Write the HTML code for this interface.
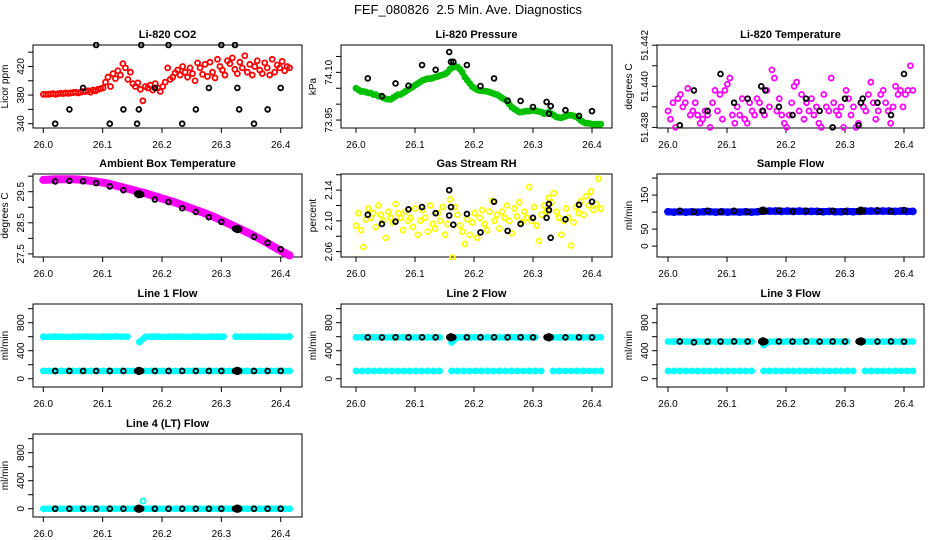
<!DOCTYPE html>
<html><head><meta charset="utf-8"><style>
html,body{margin:0;padding:0;background:#fff;}
svg{display:block;font-family:"Liberation Sans",sans-serif;}
</style></head><body>
<svg id="fig" width="936" height="540" viewBox="0 0 936 540">
<text x="468" y="14" text-anchor="middle" font-size="13" xml:space="preserve">FEF_080826  2.5 Min. Ave. Diagnostics</text>
</svg>
<script>
// shared black (reference) sample times
const blackTimes=[26.02,26.044,26.067,26.089,26.112,26.135,26.158,26.161,26.165,26.188,26.211,26.234,26.257,26.279,26.3,26.323,26.327,26.33,26.355,26.378,26.4];
const xTicks=[26.0,26.1,26.2,26.3,26.4];
const xTickLabels=["26.0","26.1","26.2","26.3","26.4"];

const co2Vals=[381,381,381,381.5,382,381,382,382.5,382,383,382.5,383,383.5,384,383,384,385,
385,386,384,387,386,388,389,390,
398,405,392,410,403,414,408,424,418,402,412,396,
392,397,388,372,392,390,394,387,396,390,385,392,
398,418,402,405,411,415,408,420,412,405,418,410,
400,425,418,409,423,406,426,412,404,430,420,415,
408,428,424,432,416,410,426,418,435,412,423,408,
420,428,415,410,425,418,408,430,412,422,418,427,414,420,418];
const co2Black=[340,360,390,450,340,360,340,360,450,390,450,340,360,390,450,450,390,360,340,360,390];

const presVals=[74.05,74.045,74.04,74.04,74.038,74.035,74.035,74.03,74.03,74.025,74.025,74.02,74.017,74.015,74.015,
74.02,74.025,74.03,74.03,74.035,74.04,74.045,74.05,74.055,74.06,74.065,74.07,74.075,74.078,74.08,74.08,74.082,74.085,74.087,74.09,74.092,
74.095,74.10,74.11,74.115,74.12,74.117,74.11,74.10,74.085,
74.075,74.065,74.055,74.05,74.045,74.043,74.042,74.041,74.04,74.038,74.035,
74.032,74.03,74.025,74.02,74.015,74.01,74.0,73.99,73.985,73.98,73.975,
73.975,73.977,73.978,73.978,73.98,73.98,73.978,73.977,73.975,73.97,73.972,73.975,73.97,73.965,
73.96,73.958,73.957,73.96,73.963,73.965,73.965,73.963,73.96,73.955,73.948,73.943,73.94,73.94,73.938,73.937,73.937,73.937,73.937];
const presBlack=[74.081,74.025,74.065,74.058,74.123,74.108,74.164,74.133,74.133,74.123,74.057,74.081,74.011,74.01,73.991,74.007,73.97,73.994,73.981,73.963,73.978];

const tempVals=[51.4388,51.4384,51.4392,51.4380,51.4394,51.4396,51.4390,51.4392,51.4399,51.4386,
51.4388,51.4392,51.4386,51.4382,51.4384,51.4388,51.4386,51.4380,51.4392,51.4398,
51.4388,51.4396,51.4384,51.4398,51.4401,51.4404,51.4386,51.4382,51.4390,51.4386,
51.4394,51.4384,51.4382,51.4392,51.4388,51.4386,51.4394,51.4392,51.4388,51.4386,
51.4398,51.4390,51.4408,51.4404,51.4388,51.4394,51.4386,51.4382,51.4380,51.4386,
51.4392,51.4400,51.4402,51.4388,51.4396,51.4384,51.4392,51.4388,51.4394,51.4386,
51.4390,51.4382,51.4380,51.4396,51.4390,51.4388,51.4404,51.4392,51.4388,51.4386,
51.4390,51.4380,51.4398,51.4394,51.4386,51.4390,51.4380,51.4382,51.4392,51.4390,
51.4388,51.4396,51.4402,51.4392,51.4384,51.4388,51.4396,51.4398,51.4392,51.4388,
51.4382,51.4390,51.4400,51.4396,51.4398,51.4390,51.4396,51.4398,51.4410,51.4398];
const tempBlack=[51.4381,51.4398,51.4388,51.4406,51.4392,51.4394,51.4400,51.4388,51.4398,51.4390,51.4386,51.4394,51.4388,51.4380,51.4394,51.4381,51.4392,51.4394,51.4392,51.4386,51.4406];

const ambVals=[29.88,29.89,29.9,29.9,29.9,29.9,29.89,29.87,29.85,29.82,29.79,29.75,29.7,29.65,29.6,29.55,29.5,29.45,29.39,29.33,29.27,29.21,29.15,29.08,29.01,28.94,28.87,28.8,28.72,28.64,28.55,28.46,28.37,28.28,28.19,28.09,27.99,27.88,27.77,27.66,27.55,27.45];
const ambBlack=[29.83,29.85,29.84,29.78,29.67,29.55,29.43,29.42,29.41,29.25,29.17,28.97,28.85,28.68,28.53,28.31,28.3,28.29,28.05,27.86,27.65];

const rhVals=[2.094,2.110,2.088,2.066,2.102,2.116,2.104,2.110,2.092,2.120,
2.108,2.100,2.078,2.112,2.104,2.098,2.122,2.110,2.104,2.088,
2.112,2.100,2.104,2.092,2.116,2.082,2.100,2.114,2.104,2.086,
2.120,2.096,2.090,2.110,2.100,2.118,2.082,2.096,2.128,2.052,
2.118,2.108,2.094,2.086,2.070,2.102,2.082,2.098,2.110,2.078,
2.104,2.114,2.096,2.088,2.112,2.126,2.100,2.108,2.090,2.112,
2.104,2.120,2.100,2.084,2.116,2.106,2.124,2.098,2.112,2.104,
2.144,2.100,2.118,2.094,2.074,2.108,2.120,2.112,2.130,2.124,
2.136,2.112,2.104,2.082,2.100,2.116,2.104,2.068,2.098,2.118,
2.110,2.126,2.108,2.132,2.120,2.138,2.114,2.122,2.155,2.116];
const rhBlackTimes=[26.02,26.044,26.067,26.089,26.112,26.135,26.158,26.158,26.161,26.165,26.188,26.211,26.234,26.257,26.279,26.3,26.323,26.327,26.327,26.33,26.355,26.378,26.4];
const rhBlack=[2.108,2.096,2.099,2.115,2.118,2.110,2.107,2.140,2.118,2.095,2.109,2.085,2.125,2.087,2.096,2.104,2.104,2.114,2.122,2.078,2.102,2.121,2.125];

const flowVals=[101,100,101,100,101,100,101,101,100,101,100,101,100,101,100,101,103,103,103,102,103,102,103,102,102,102,101,102,101,101,102,101,102,103,103,103,103,103,102,103,102,102];
const flowBlack=[104,101,104,101,104,101,105,104,103,105,102,104,101,104,102,103,104,104,105,102,106];

const l1Upper=[600,598,602,600,598,601,600,603,600,598,602,600,604,600,601,null,525,598,600,602,598,600,601,600,599,602,600,598,601,600,602,null,600,601,600,599,602,600,601,600,599,602];
const l1Lower=[111,111,111,111,111,111,111,111,111,111,111,111,111,111,111,111,111,111,111,111,111,111,111,111,111,111,111,111,111,111,111,111,111,111,111,111,111,111,111,111,111,111];
const l1Black=[111,111,111,111,111,111,111,111,111,111,111,111,111,111,111,111,111,111,111,111,111];

const l2Upper=[592,590,591,592,590,591,590,592,590,591,590,592,591,590,591,null,520,590,591,590,592,590,591,590,591,590,592,590,591,590,591,null,590,591,590,592,590,591,590,591,590,592];
const l2Lower=[111,111,111,111,111,111,111,111,111,111,111,111,111,111,111,null,111,111,111,111,111,111,111,111,111,111,111,111,111,111,111,111,null,111,111,111,111,111,111,111,111,111];
const l2Black=[592,590,592,591,592,591,592,592,591,592,591,592,591,592,591,592,592,592,591,592,590];

const l3Upper=[532,530,531,532,530,531,530,532,530,531,530,532,531,530,531,null,480,530,531,530,532,530,531,530,531,530,532,530,531,530,531,null,530,531,530,532,530,531,530,531,530,532];
const l3Lower=[111,111,111,111,111,111,111,111,111,111,111,111,111,111,111,null,111,111,111,111,111,111,111,111,111,111,111,111,111,111,111,111,null,111,111,111,111,111,111,111,111,111];
const l3Black=[532,520,530,531,532,531,532,532,531,532,531,532,531,532,531,532,532,532,531,532,530];

const l4Vals=[0,0,0,0,0,0,0,0,0,0,0,0,0,0,0,0,0,0,0,0,0,0,0,0,0,0,0,0,0,0,0,0,0,0,0,0,0,0,0,0,0,0];
const l4OutlierTimes=[26.168];
const l4OutlierVals=[110];
const l4Black=[0,0,0,0,0,0,0,0,0,0,0,0,0,0,0,0,0,0,0,0,0];

const NS='http://www.w3.org/2000/svg';
const svg=document.getElementById('fig');
function el(tag,attrs,parent){const e=document.createElementNS(NS,tag);for(const k in attrs)e.setAttribute(k,attrs[k]);(parent||svg).appendChild(e);return e;}

const cols=[{bl:33,br:302,x0:43.3,x4:280.7},{bl:341,br:612,x0:356,x4:592},{bl:657,br:924,x0:668,x4:904}];
const rows=[45,174,304,434];
const PH=83;

function panel(p){
  const c=cols[p.col],top=rows[p.row],bot=top+PH;
  const g=el('g',{});
  
  
  const xs=t=>c.x0+(t-26.0)/0.4*(c.x4-c.x0);
  const ys=v=>bot-(v-p.ymin)/(p.ymax-p.ymin)*PH;
  const tt=el('text',{x:(c.bl+c.br)/2,y:top-7,'text-anchor':'middle','font-size':11,'font-weight':'bold'},g);
  tt.textContent=p.title;
  
  
  const box=el('rect',{x:c.bl,y:top,width:c.br-c.bl,height:PH,fill:'none',stroke:'#000','stroke-width':1},g);
  
  
  xTicks.forEach((t,i)=>{const x=xs(t);
    el('line',{x1:x,x2:x,y1:bot,y2:bot+5,stroke:'#000'},g);
    const l=el('text',{x:x,y:bot+20,'text-anchor':'middle','font-size':10},g);l.textContent=xTickLabels[i];
    
    });
  p.yticks.forEach(v=>{const y=ys(v);el('line',{x1:c.bl-5,x2:c.bl,y1:y,y2:y,stroke:'#000'},g);});
  p.ylabels.forEach(v=>{const y=ys(v);const x=c.bl-9;
    const l=el('text',{x:x,y:y,'text-anchor':'middle','font-size':10,transform:`rotate(-90 ${x} ${y})`},g);
    l.textContent=p.fmt?p.fmt(v):String(v);
    
    });
  const ax=c.bl-25,ay=(top+bot)/2;
  const at=el('text',{x:ax,y:ay,'text-anchor':'middle','font-size':10,transform:`rotate(-90 ${ax} ${ay})`},g);
  at.textContent=p.ylab;
  
  
  const clip='clip'+p.name;
  const cp=el('clipPath',{id:clip},g);el('rect',{x:c.bl-3,y:top-3,width:c.br-c.bl+6,height:PH+6},cp);
  const pg=el('g',{'clip-path':`url(#${clip})`},g);
  p.series.forEach(s=>{
    const n=s.vals.length;
    const tOf=i=>s.times?s.times[i]:26.0+i*0.415/(n-1);
    if(s.band){let seg=[];
      const flush=()=>{if(seg.length>1){const pl=el('polyline',{points:seg.join(' '),fill:'none',stroke:s.color,'stroke-width':s.band,'stroke-linejoin':'round','stroke-linecap':'round'},pg);
        
        }seg=[];};
      s.vals.forEach((v,i)=>{if(v===null){flush();}else seg.push(xs(tOf(i))+','+ys(v));});flush();}
    s.vals.forEach((v,i)=>{if(v===null)return;
      const ci=el('circle',{cx:xs(tOf(i)),cy:ys(v),r:s.r||2.5,fill:'none',stroke:s.color,'stroke-width':s.sw||1.8},pg);
      
      });
  });
  const bt=p.blackTimes||blackTimes;
  p.black.forEach((v,i)=>{const filled=p.filled&&(i===7||i===16);
    const ci=el('circle',{cx:xs(bt[i]),cy:ys(v),r:filled?3.3:2.4,fill:filled?'#000':'none',stroke:'#000','stroke-width':1.8},pg);
    
    });
}

const flowTicks=[0,200,400,600,800,1000],flowLabels=[0,400,800];
panel({name:'co2-panel',col:0,row:0,title:'Li-820 CO2',ylab:'Licor ppm',ymin:334,ymax:450,yticks:[340,360,380,400,420,440],ylabels:[340,380,420],series:[{vals:co2Vals,color:'#ff0000'}],black:co2Black});
panel({name:'pressure-panel',col:1,row:0,title:'Li-820 Pressure',ylab:'kPa',ymin:73.925,ymax:74.186,yticks:[73.95,74.0,74.05,74.1,74.15],ylabels:[73.95,74.1],fmt:v=>v.toFixed(2),series:[{vals:presVals,color:'#00c000',band:5}],black:presBlack});
panel({name:'temperature-panel',col:2,row:0,title:'Li-820 Temperature',ylab:'degrees C',ymin:51.43797,ymax:51.44201,yticks:[51.438,51.439,51.44,51.441,51.442],ylabels:[51.438,51.44,51.442],fmt:v=>v.toFixed(3),series:[{vals:tempVals,color:'#ff00ff'}],black:tempBlack});
panel({name:'ambient-temperature-panel',col:0,row:1,title:'Ambient Box Temperature',ylab:'degrees C',ymin:27.40,ymax:30.07,yticks:[27.5,28,28.5,29,29.5,30],ylabels:[27.5,28.5,29.5],fmt:v=>v.toFixed(1),series:[{vals:ambVals,color:'#ff00ff',band:8,r:3}],black:ambBlack,filled:true});
panel({name:'rh-panel',col:1,row:1,title:'Gas Stream RH',ylab:'percent',ymin:2.053,ymax:2.161,yticks:[2.06,2.08,2.1,2.12,2.14,2.16],ylabels:[2.06,2.1,2.14],fmt:v=>v.toFixed(2),series:[{vals:rhVals,color:'#ffff00'}],black:rhBlack,blackTimes:rhBlackTimes});
panel({name:'sample-flow-panel',col:2,row:1,title:'Sample Flow',ylab:'ml/min',ymin:-32,ymax:212,yticks:[0,50,100,150,200],ylabels:[0,50,150],series:[{vals:flowVals,color:'#0000ff',band:7,r:3}],black:flowBlack,filled:true});
panel({name:'line1-flow-panel',col:0,row:2,title:'Line 1 Flow',ylab:'ml/min',ymin:-118,ymax:1067,yticks:flowTicks,ylabels:flowLabels,series:[{vals:l1Upper,color:'#00ffff',band:6},{vals:l1Lower,color:'#00ffff',band:6}],black:l1Black,filled:true});
panel({name:'line2-flow-panel',col:1,row:2,title:'Line 2 Flow',ylab:'ml/min',ymin:-118,ymax:1067,yticks:flowTicks,ylabels:flowLabels,series:[{vals:l2Upper,color:'#00ffff',band:6},{vals:l2Lower,color:'#00ffff',band:5}],black:l2Black,filled:true});
panel({name:'line3-flow-panel',col:2,row:2,title:'Line 3 Flow',ylab:'ml/min',ymin:-118,ymax:1067,yticks:flowTicks,ylabels:flowLabels,series:[{vals:l3Upper,color:'#00ffff',band:6},{vals:l3Lower,color:'#00ffff',band:5}],black:l3Black,filled:true});
panel({name:'line4-flow-panel',col:0,row:3,title:'Line 4 (LT) Flow',ylab:'ml/min',ymin:-118,ymax:1067,yticks:flowTicks,ylabels:flowLabels,series:[{vals:l4Vals,color:'#00ffff',band:6},{vals:l4OutlierVals,times:l4OutlierTimes,color:'#00ffff'}],black:l4Black,filled:true});
</script>
</body></html>
